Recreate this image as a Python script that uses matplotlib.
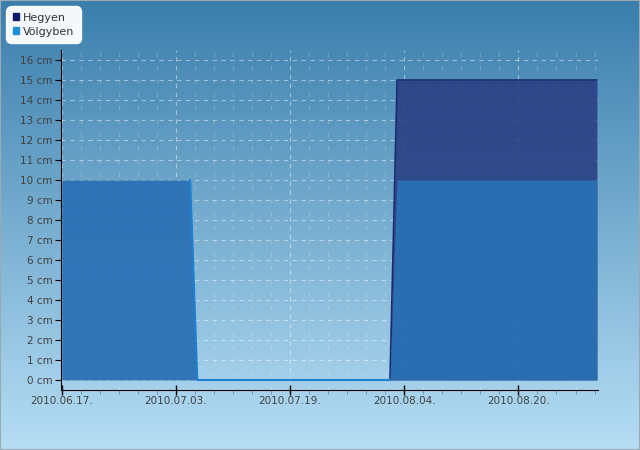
import datetime as dt
import numpy as np
import matplotlib
matplotlib.use("Agg")
from matplotlib import pyplot as plt
import matplotlib.dates as mdates
from matplotlib.ticker import MultipleLocator, AutoMinorLocator, FixedLocator
from matplotlib.patches import Patch

dates = [dt.datetime(2010, 6, 17), dt.datetime(2010, 7, 5), dt.datetime(2010, 7, 6),
         dt.datetime(2010, 8, 2), dt.datetime(2010, 8, 3), dt.datetime(2010, 8, 31)]
hegyen = [0, 0, 0, 0, 15, 15]
volgyben = [10, 10, 0, 0, 10, 10]
tick_dates = [dt.datetime(2010, 6, 17), dt.datetime(2010, 7, 3), dt.datetime(2010, 7, 19),
              dt.datetime(2010, 8, 4), dt.datetime(2010, 8, 20)]

fig = plt.figure(figsize=(6.4, 4.5), dpi=100)

# gradient background
bg = fig.add_axes([0, 0, 1, 1], zorder=-10)
top = np.array([58, 126, 172]) / 255
bot = np.array([182, 222, 245]) / 255
t = np.linspace(0, 1, 256)[:, None]
grad = top * (1 - t) + bot * t
bg.imshow(grad[:, None, :].repeat(2, axis=1), aspect='auto', extent=[0, 1, 0, 1])
bg.set_axis_off()
fig.patches.append(plt.Rectangle((0, 0), 1, 1, transform=fig.transFigure,
                                 fill=False, edgecolor='#9aaab5', linewidth=1.5))

ax = fig.add_axes([61 / 640, 60 / 450, 537 / 640, 340 / 450])
ax.patch.set_alpha(0)

x = mdates.date2num(dates)
ax.fill_between(x, hegyen, 0, color='#283d82', alpha=0.88, linewidth=0, zorder=2)
ax.plot(x[3:], hegyen[3:], color='#1a2a70', linewidth=1.2, zorder=3)
ax.fill_between(x, volgyben, 0, color='#2a70b4', alpha=0.94, linewidth=0, zorder=4)
ax.plot(x[1:4], volgyben[1:4], color='#2080d0', linewidth=1.5, zorder=5)

ax.set_ylim(-0.5, 16.5)
ax.set_xlim(x[0] - 0.1, x[-1] + 0.15)
ax.yaxis.set_major_locator(MultipleLocator(1))
ax.yaxis.set_major_formatter(plt.FuncFormatter(lambda v, p: f"{int(v)} cm"))
ax.xaxis.set_major_locator(FixedLocator(mdates.date2num(tick_dates)))
ax.xaxis.set_minor_locator(AutoMinorLocator(6))
ax.xaxis.set_major_formatter(mdates.DateFormatter('%Y.%m.%d.'))

for s in ['top', 'right']:
    ax.spines[s].set_visible(False)
ax.spines['left'].set_color('black')
ax.spines['bottom'].set_color('black')

ax.tick_params(axis='both', labelsize=7.5, labelcolor='#404040')
ax.tick_params(axis='y', length=4, width=0.8, pad=2)
ax.tick_params(axis='x', which='major', direction='inout', length=7, width=1, pad=1)
ax.tick_params(axis='x', which='minor', direction='out', length=3, width=0.6, color='#6a8aa0')

ax.grid(axis='y', which='major', color='white', alpha=0.45, linestyle=(0, (4, 4)), linewidth=0.8, zorder=1)
ax.grid(axis='x', which='major', color='white', alpha=0.45, linestyle=(0, (4, 4)), linewidth=0.8, zorder=1)
ax.grid(axis='x', which='minor', color='white', alpha=0.2, linestyle=(0, (4, 8)), linewidth=0.8, zorder=1)

handles = [Patch(color='#0d1a66', label='Hegyen'), Patch(color='#1e8fd6', label='Völgyben')]
leg = fig.legend(handles=handles, loc='upper left', bbox_to_anchor=(6 / 640, 1 - 6 / 450),
                 fontsize=8, frameon=True, fancybox=True, handlelength=0.6, handleheight=0.6,
                 handletextpad=0.35, labelspacing=0.35, borderpad=0.6, borderaxespad=0)
leg.get_frame().set_facecolor('white')
leg.get_frame().set_edgecolor('white')
leg.get_frame().set_alpha(0.95)
leg.get_frame().set_boxstyle('round', pad=0, rounding_size=0.5)
for txt in leg.get_texts():
    txt.set_color('#333333')

fig.savefig('out.png', dpi=100)
